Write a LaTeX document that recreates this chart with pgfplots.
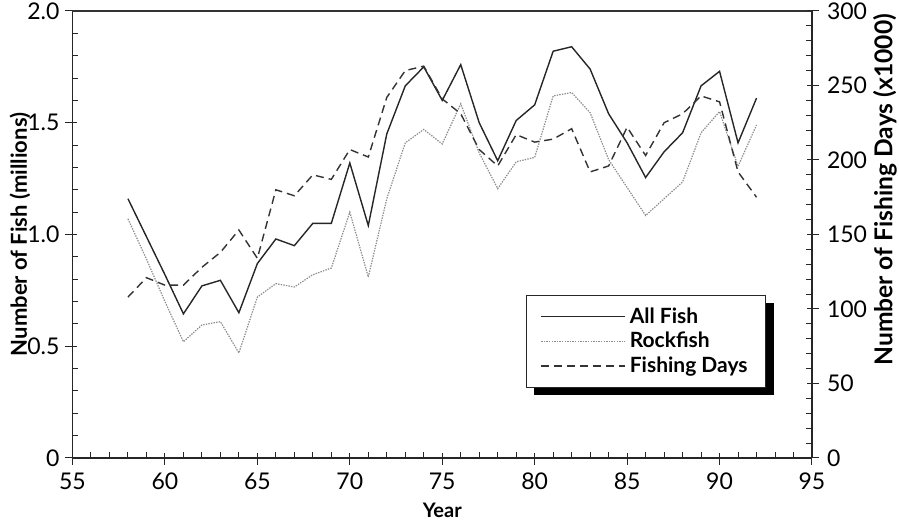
\documentclass[border=0pt]{standalone}
\usepackage{pgfplots}
\pgfplotsset{compat=1.18}
\usepackage{pgfplotstable}
\usepackage{fontspec}
\setmainfont{Lato}
\usetikzlibrary{shadows}
\makeatletter
\tikzset{nopreaction/.code={\let\tikz@preactions\pgfutil@empty}}
\makeatother

\pgfplotstableread{
year all rock days
58 1.16 1.07 108
59 0.99 0.89 121
60 0.82 0.70 116
61 0.645 0.52 116
62 0.77 0.595 128
63 0.795 0.61 138
64 0.65 0.47 153
65 0.87 0.72 134
66 0.98 0.78 180
67 0.95 0.765 176
68 1.05 0.82 190
69 1.05 0.85 187
70 1.32 1.10 207
71 1.04 0.81 202
72 1.45 1.16 242
73 1.665 1.41 260
74 1.75 1.47 263
75 1.60 1.405 241
76 1.76 1.585 231
77 1.50 1.365 207
78 1.33 1.205 196
79 1.51 1.325 217
80 1.58 1.345 212
81 1.82 1.62 214
82 1.84 1.635 221
83 1.74 1.545 192
84 1.54 1.335 196
85 1.41 1.21 222
86 1.255 1.085 203
87 1.37 1.16 225
88 1.455 1.235 231
89 1.665 1.455 243
90 1.73 1.55 239
91 1.41 1.305 192
92 1.61 1.49 175
}\data

\begin{document}
\begin{tikzpicture}
\pgfplotsset{
  common/.style={
    scale only axis, width=369.75pt, height=223.5pt,
    xmin=55, xmax=95,
    tick align=inside,
    major tick length=6pt, minor tick length=3pt,
    tick style={black!85, line width=0.5pt},
    axis line style={black!85, line width=0.6pt},
    /pgf/number format/assume math mode=true,
    tick label style={font=\fontsize{11.5}{12}\selectfont},
  },
  allstyle/.style={black!85, line width=0.7pt},
  rockstyle/.style={black!45, line width=0.6pt, dash pattern=on 0.7pt off 0.6pt},
  daysstyle/.style={black!80, line width=0.7pt, dash pattern=on 4pt off 2.5pt},
}
% x axis
\begin{axis}[common, ymin=0, ymax=2, hide y axis, axis x line*=bottom,
  xtick={55,60,...,95}, minor x tick num=4,
  major tick style={yshift=-3.5pt},
  xticklabel style={yshift=-4pt},
  xlabel={\bfseries Year},
  xlabel style={at={(axis description cs:0.5,0)}, anchor=center, yshift=-26pt,
    font=\fontsize{10}{12}\selectfont},
]
\end{axis}
% left y axis
\begin{axis}[common, ymin=0, ymax=2, hide x axis, axis y line*=left,
  ytick={0,0.5,1,1.5,2}, yticklabels={0,0.5,1.0,1.5,2.0}, minor y tick num=4,
  major tick style={xshift=-3.5pt},
  yticklabel style={xshift=-3pt},
  every axis y label/.style={at={(axis description cs:0,0.5)}, rotate=90,
    anchor=center, yshift=26.25pt, font=\bfseries\fontsize{11}{12}\selectfont},
  ylabel={Number of Fish (millions)},
  legend style={at={(rel axis cs:0.613,0.365)}, anchor=north west,
    draw=black!85, line width=0.6pt, fill=white,
    drop shadow={shadow xshift=4pt, shadow yshift=-4pt, fill=black, opacity=1},
    font=\bfseries\fontsize{10.5}{12}\selectfont,
    inner xsep=7pt, inner ysep=4pt, row sep=-1pt},
  legend cell align=left,
  legend image code/.code={\draw[nopreaction, #1] (0pt,0pt) -- (42pt,0pt);},
  after end axis/.code={\draw[line width=1pt, black!80] (rel axis cs:0,1) -- (rel axis cs:1,1);},
]
\addplot[allstyle] table[x=year, y=all] {\data};
\addlegendentry{All Fish\hspace{12pt}}
\addplot[rockstyle] table[x=year, y=rock] {\data};
\addlegendentry{Rockfish}
\addlegendimage{daysstyle}
\addlegendentry{Fishing Days}
\end{axis}
% right y axis
\begin{axis}[common, ymin=0, ymax=300, hide x axis, axis y line*=right,
  ytick={0,50,...,300}, minor y tick num=4,
  major tick style={xshift=3.5pt},
  yticklabel style={xshift=4pt},
  every axis y label/.style={at={(axis description cs:1,0.6)}, rotate=90,
    anchor=center, yshift=-36.5pt, font=\bfseries\fontsize{12.3}{12}\selectfont},
  ylabel={Number of Fishing Days (x1000)},
]
\addplot[daysstyle] table[x=year, y=days] {\data};
\end{axis}
\pgfresetboundingbox
\path[use as bounding box] (current axis.south west) ++(-36.25pt,-32.5pt)
  rectangle ([xshift=43.5pt,yshift=5.5pt]current axis.north east);
\end{tikzpicture}
\end{document}
